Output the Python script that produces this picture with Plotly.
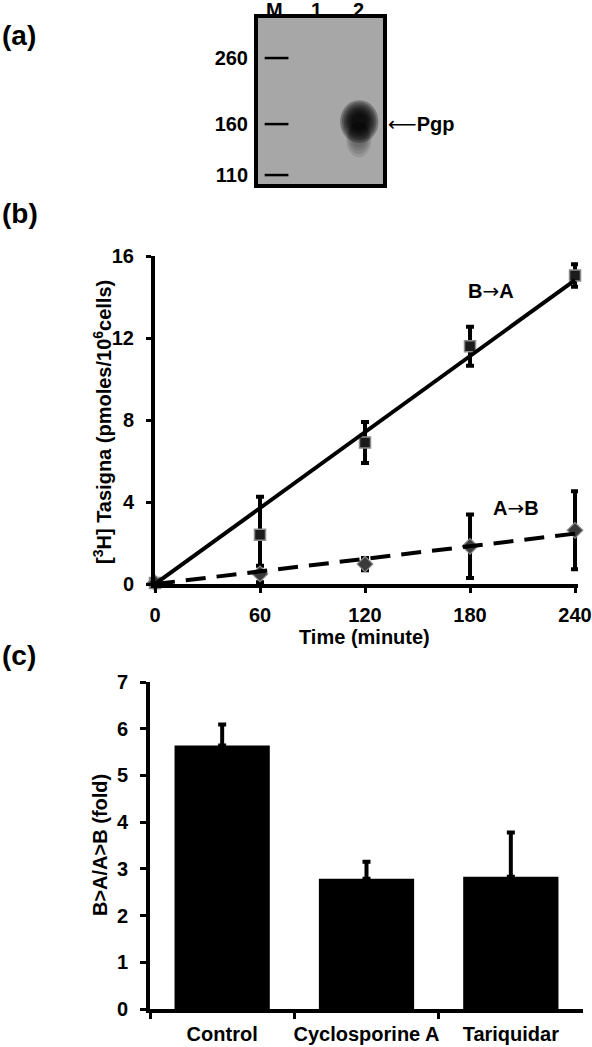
import numpy as np
import plotly.graph_objects as go

# ---------- Panel (a): western blot ----------
lanes = ["M", "1", "2"]
marker_mw = [260, 160, 110]
band_lane = 2
band_mw = 163
pgp_label = "Pgp"

# ---------- Panel (b): transport time course ----------
time_min = [0, 60, 120, 180, 240]
b_to_a = [0.05, 2.4, 6.9, 11.6, 15.05]
b_to_a_err = [0.1, 1.85, 1.0, 0.95, 0.55]
a_to_b = [0.05, 0.49, 0.97, 1.84, 2.62]
a_to_b_err = [0.1, 0.4, 0.3, 1.55, 1.9]
x_ticks_b = [0, 60, 120, 180, 240]
y_ticks_b = [0, 4, 8, 12, 16]

# ---------- Panel (c): efflux ratio ----------
treatments = ["Control", "Cyclosporine A", "Tariquidar"]
fold = [5.64, 2.79, 2.83]
fold_err = [0.45, 0.36, 0.95]

W, H = 592, 1047
FONT = "Arial, Liberation Sans, sans-serif"
BLOT_BG = "#a7a7a7"


def px_x(p):
    return p / W


def px_y(p):
    return 1 - p / H


fig = go.Figure()

# ----- Panel (a) -----
mx, my = [], []
for mw in marker_mw:
    mx += [0 - 0.24, 0 + 0.33, None]
    my += [mw, mw, None]
fig.add_trace(go.Scatter(x=mx, y=my, mode="lines", line=dict(color="black", width=2.5),
                         xaxis="x", yaxis="y", showlegend=False, hoverinfo="skip"))

# band drawn as stacked translucent ellipses (soft edges)
band_shapes = []
for k in range(4):
    hw = 0.30 - 0.03 * k
    band_shapes.append(dict(type="circle", xref="x", yref="y", layer="above",
                            x0=band_lane + 0.02 - hw, x1=band_lane + 0.02 + hw,
                            y0=band_mw / (1.30 - 0.03 * k), y1=band_mw / 1.0,
                            fillcolor="black", opacity=0.10, line=dict(width=0)))
for k in range(7):
    hw = 0.46 - 0.045 * k
    f = 1.17 - 0.018 * k
    band_shapes.append(dict(type="circle", xref="x", yref="y", layer="above",
                            x0=band_lane + 0.03 - hw, x1=band_lane + 0.03 + hw,
                            y0=band_mw / f, y1=band_mw * f,
                            fillcolor="black", opacity=0.28, line=dict(width=0)))

# ----- Panel (b) -----
t = np.array(time_min, dtype=float)
slope_ba = float(np.sum(t * np.array(b_to_a)) / np.sum(t * t))
slope_ab = float(np.sum(t * np.array(a_to_b)) / np.sum(t * t))
fit_x = [0, max(time_min)]

fig.add_trace(go.Scatter(x=time_min, y=b_to_a, mode="markers",
                         marker=dict(symbol="square", size=11, color="#1c1c1c",
                                     line=dict(color="#8c8c8c", width=1.5)),
                         error_y=dict(type="data", array=b_to_a_err, color="black",
                                      thickness=4, width=4),
                         cliponaxis=False, xaxis="x2", yaxis="y2", showlegend=False))
fig.add_trace(go.Scatter(x=time_min, y=a_to_b, mode="markers",
                         marker=dict(symbol="diamond", size=12, color="#3a3a3a",
                                     line=dict(color="#8c8c8c", width=1.2)),
                         error_y=dict(type="data", array=a_to_b_err, color="black",
                                      thickness=4, width=4),
                         cliponaxis=False, xaxis="x2", yaxis="y2", showlegend=False))
fig.add_trace(go.Scatter(x=fit_x, y=[slope_ba * v for v in fit_x], mode="lines",
                         line=dict(color="black", width=4),
                         cliponaxis=False, xaxis="x2", yaxis="y2", showlegend=False))
fig.add_trace(go.Scatter(x=fit_x, y=[slope_ab * v for v in fit_x], mode="lines",
                         line=dict(color="black", width=4, dash="20px,11px"),
                         cliponaxis=False, xaxis="x2", yaxis="y2", showlegend=False))

# ----- Panel (c) -----
fig.add_trace(go.Bar(x=treatments, y=fold, width=0.66, marker=dict(color="black", line=dict(width=0)),
                     error_y=dict(type="data", symmetric=False, array=fold_err,
                                  arrayminus=[0] * len(fold_err), color="black",
                                  thickness=4, width=4),
                     xaxis="x3", yaxis="y3", showlegend=False))

tickfont = dict(family=FONT, size=20, color="black", weight="bold")
common = dict(showgrid=False, zeroline=False, showline=True, linecolor="black",
              linewidth=4, tickfont=tickfont, automargin=False, tickcolor="black")

fig.update_layout(
    template="none",
    width=W, height=H,
    margin=dict(l=0, r=0, t=0, b=0, pad=0),
    paper_bgcolor="white", plot_bgcolor="white",
    showlegend=False,
    xaxis=dict(domain=[px_x(258), px_x(383)], anchor="y", range=[-0.4, 2.6],
               tickvals=[0, 1, 2], showticklabels=False, side="top", ticks="",
               mirror=True, **common),
    yaxis=dict(domain=[px_y(184), px_y(18)], anchor="x", type="log",
               range=[np.log10(103), np.log10(349)], tickvals=marker_mw,
               ticktext=[str(v) for v in marker_mw], ticks="", mirror=True,
               ticklabelstandoff=2, **common),
    xaxis2=dict(domain=[px_x(155), px_x(578)], anchor="y2", range=[0, 241.7],
                tickvals=x_ticks_b, ticks="outside", ticklen=5, tickwidth=3,
                ticklabelstandoff=5, **common),
    yaxis2=dict(domain=[px_y(584), px_y(256)], anchor="x2", range=[0, 16],
                tickvals=y_ticks_b, ticks="outside", ticklen=5, tickwidth=3,
                ticklabelstandoff=8, **common),
    xaxis3=dict(domain=[px_x(150), px_x(583)], anchor="y3", type="category",
                range=[-0.5, 2.5], tickson="boundaries", ticks="outside", ticklen=6,
                tickwidth=3, tickangle=0, ticklabelstandoff=4, **common),
    yaxis3=dict(domain=[px_y(1009), px_y(682)], anchor="x3", range=[0, 7], dtick=1,
                ticks="outside", ticklen=6, tickwidth=3, ticklabelstandoff=8, **common),
    shapes=[dict(type="rect", xref="x domain", yref="y domain", x0=0, x1=1, y0=0, y1=1,
                 fillcolor=BLOT_BG, line=dict(width=0), layer="below")] + band_shapes,
)

afont = dict(family=FONT, size=20, color="black", weight="bold")
panel_font = dict(family=FONT, size=28, color="black", weight="bold")
ARROW_R = '<span style="font-family:DejaVu Sans;font-weight:normal">\u2192</span>'
ARROW_L = '<span style="font-family:DejaVu Sans;font-weight:normal">\u27f5</span>'
annotations = [
    dict(text="(a)", x=0, y=px_y(35), xref="paper", yref="paper", xanchor="left",
         yanchor="middle", showarrow=False, font=panel_font),
    dict(text="(b)", x=0, y=px_y(213), xref="paper", yref="paper", xanchor="left",
         yanchor="middle", showarrow=False, font=panel_font),
    dict(text="(c)", x=0, y=px_y(655), xref="paper", yref="paper", xanchor="left",
         yanchor="middle", showarrow=False, font=panel_font),
    dict(text=ARROW_L + pgp_label, x=px_x(386), y=np.log10(160), xref="paper", yref="y",
         xanchor="left", yanchor="middle", showarrow=False, font=afont),
    dict(text="B" + ARROW_R + "A", x=192, y=14.3, xref="x2", yref="y2", showarrow=False,
         xanchor="center", yanchor="middle", font=afont),
    dict(text="A" + ARROW_R + "B", x=206, y=3.7, xref="x2", yref="y2", showarrow=False,
         xanchor="center", yanchor="middle", font=afont),
    dict(text="Time (minute)", x=px_x(364), y=px_y(637), xref="paper", yref="paper",
         showarrow=False, font=afont, xanchor="center", yanchor="middle"),
    dict(text="[<sup>3</sup>H] Tasigna (pmoles/10<sup>6</sup>cells)", x=px_x(103),
         y=px_y(422), xref="paper", yref="paper", textangle=-90, showarrow=False,
         xanchor="center", yanchor="middle", font=afont),
    dict(text="B>A/A>B (fold)", x=px_x(100), y=px_y(845), xref="paper", yref="paper",
         textangle=-90, showarrow=False, xanchor="center", yanchor="middle", font=afont),
]
for i, lab in enumerate(lanes):
    annotations.append(dict(text=lab, x=i, y=px_y(10), xref="x", yref="paper",
                            xanchor="center", yanchor="middle", showarrow=False,
                            font=afont))
fig.update_layout(annotations=annotations)

fig.write_html("out.html", config={"displayModeBar": False},
               post_script="document.body.style.margin='0';")
